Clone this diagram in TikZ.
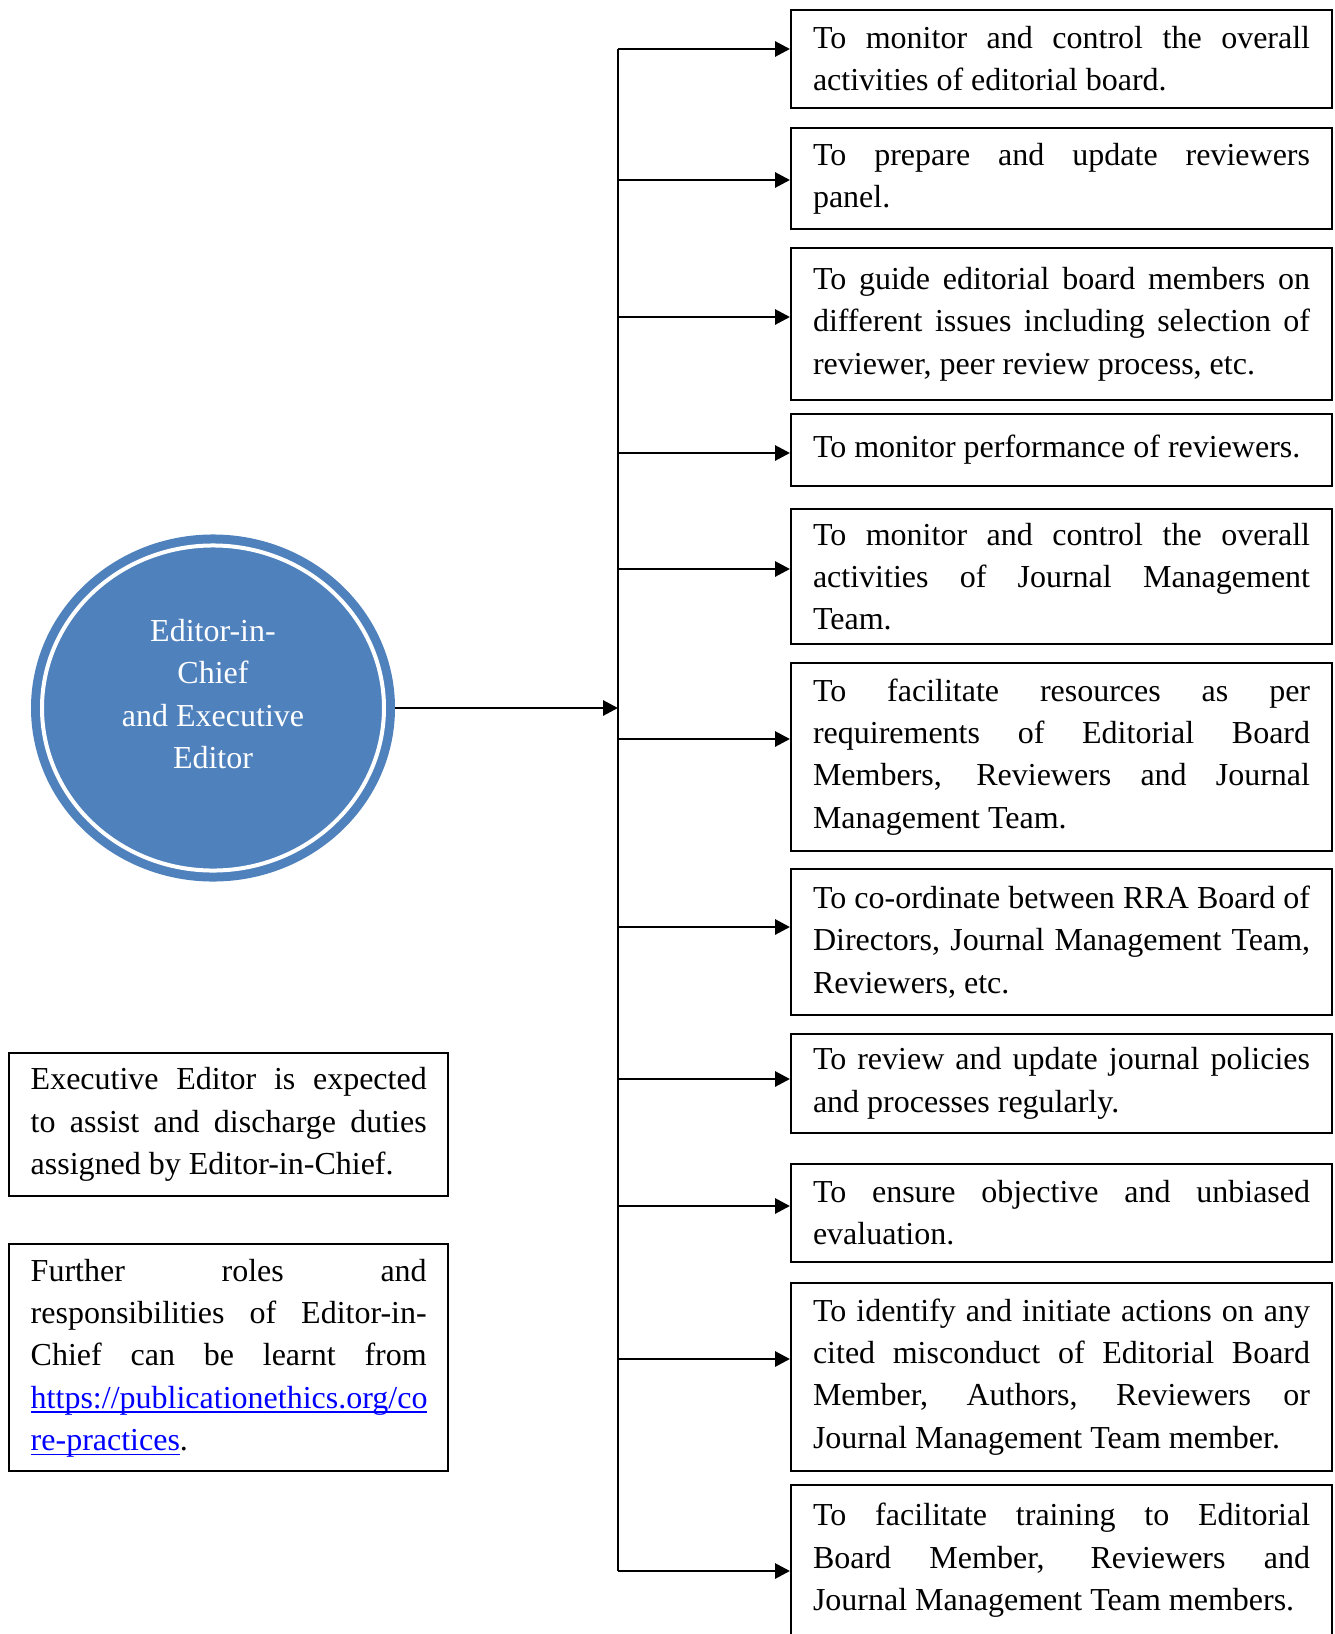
\documentclass[tikz,border=0pt]{standalone}
\usepackage{fontspec}
\setmainfont{Liberation Serif}
\usepackage{xcolor}
\usetikzlibrary{arrows.meta,shapes.geometric}
\definecolor{hubc}{HTML}{4F81BD}
\definecolor{linkc}{HTML}{0000FF}
\newcommand{\boxfont}{\fontsize{12pt}{15.87pt}\selectfont\tolerance=10000 \hyphenpenalty=10000 }
\newcommand{\weblink}[1]{\textcolor{linkc}{\underline{\smash{#1}}}}
\tikzset{
  txt/.style={font=\boxfont},
  ar/.style={-{Triangle[length=5.6pt,width=5.6pt]},line width=1.1pt},
  box/.style={txt,draw,line width=0.75pt,anchor=north west,align=justify,text width=186.4pt,inner xsep=8.25pt},
  note/.style={box,text width=148.5pt,inner xsep=8.15pt},
  hub/.style={ellipse,fill=hubc,draw=hubc,double=white,double distance=1.5pt,line width=3.375pt,
    minimum width=128.25pt,minimum height=121.9pt,outer sep=4.125pt}
}

\begin{document}
\begin{tikzpicture}[x=0.375pt,y=-0.375pt]
\useasboundingbox (0,0) rectangle (1335,1634);
% editor circle
\node[hub] (eic) at (213,708) {};
\node[txt,text=white,align=center] (eiclabel) at ([yshift=5.25pt]eic.center) {Editor-in-\\Chief\\and Executive\\Editor};
% duties
\node[box,minimum height=36.7pt] (b1) at (790,9) {To monitor and control the overall\linebreak activities of editorial board.};
\node[box,minimum height=37.9pt] (b2) at (790,127) {To prepare and update reviewers\linebreak panel.};
\node[box,minimum height=57.1pt] (b3) at (790,247) {To guide editorial board members on\linebreak different issues including selection of\linebreak reviewer, peer review process, etc.};
\node[box,minimum height=27pt] (b4) at (790,413) {To monitor performance of reviewers.};
\node[box,minimum height=50.8pt] (b5) at (790,508) {To monitor and control the overall\linebreak activities of Journal Management\linebreak Team.};
\node[box,minimum height=70.4pt] (b6) at (790,662) {To facilitate resources as per\linebreak requirements of Editorial Board\linebreak Members, Reviewers and Journal\linebreak Management Team.};
\node[box,minimum height=54.7pt] (b7) at (790,868) {To co-ordinate between RRA Board of\linebreak Directors, Journal Management Team,\linebreak Reviewers, etc.};
\node[box,minimum height=37.1pt] (b8) at (790,1033) {To review and update journal policies\linebreak and processes regularly.};
\node[box,minimum height=36.7pt] (b9) at (790,1163) {To ensure objective and unbiased\linebreak evaluation.};
\node[box,minimum height=70.4pt] (b10) at (790,1282) {To identify and initiate actions on any\linebreak cited misconduct of Editorial Board\linebreak Member, Authors, Reviewers or\linebreak Journal Management Team member.};
\node[box,inner ysep=6.8pt] (b11) at (790,1484) {To facilitate training to Editorial\linebreak Board Member, Reviewers and\linebreak Journal Management Team members.\rule[-45pt]{0pt}{0pt}};
% notes on the left
\node[note,minimum height=53.6pt] (exnote) at (8,1052) {Executive Editor is expected\linebreak to assist and discharge duties\linebreak assigned by Editor-in-Chief.};
\node[note,minimum height=85.1pt] (frnote) at (8,1243) {Further roles and\linebreak responsibilities of Editor-in-\linebreak Chief can be learnt from\linebreak \weblink{https://publicationethics.org/co}\linebreak \weblink{re-practices}.};
% connectors
\foreach \i/\ay in {1/49,2/180,3/317,4/453,5/569,6/739,7/927,8/1079,9/1206,10/1359,11/1571}
  \coordinate (p\i) at (618,\ay);
\draw[line width=0.75pt] (p1) -- (p11);
\foreach \i in {1,...,11}
  \draw[ar] (p\i) -- (p\i -| b\i.west);
\draw[ar] (eic.east) -- (eic.east -| p1);
\end{tikzpicture}
\end{document}
